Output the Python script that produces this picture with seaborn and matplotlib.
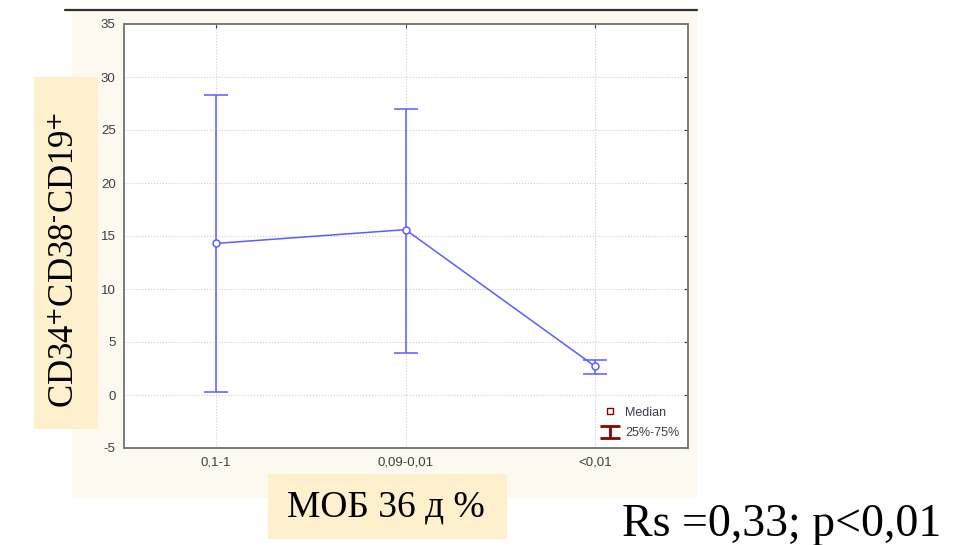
import numpy as np
import pandas as pd
import matplotlib
matplotlib.use('Agg')
import matplotlib.pyplot as plt
from matplotlib.patches import Rectangle
from matplotlib.lines import Line2D
import seaborn as sns

# values
groups = ['0,1-1', '0,09-0,01', '<0,01']
median = [14.3, 15.6, 2.7]
q25 = [0.3, 4.0, 2.0]
q75 = [28.3, 27.0, 3.3]

df = pd.DataFrame({'group': groups, 'median': median, 'q25': q25, 'q75': q75})
df['pos'] = np.arange(len(groups))

sns.set_style('white')
plt.rcParams['font.family'] = ['Liberation Sans', 'DejaVu Sans']
plt.rcParams['mathtext.fontset'] = 'stix'
plt.rcParams['axes.unicode_minus'] = False

W, H = 963, 545
fig = plt.figure(figsize=(W / 100, H / 100), dpi=100)

def fx(px):
    return px / W

def fy(py):
    return 1 - py / H

# cream panel behind the chart and the label boxes
fig.patches.append(Rectangle((fx(72), fy(498)), fx(697) - fx(72), fy(11) - fy(498),
                             transform=fig.transFigure, facecolor='#fef9ee', edgecolor='none', zorder=-3))
fig.patches.append(Rectangle((fx(34), fy(429)), fx(98) - fx(34), fy(77) - fy(429),
                             transform=fig.transFigure, facecolor='#fef0cd', edgecolor='none', zorder=-2))
fig.patches.append(Rectangle((fx(268), fy(539)), fx(507) - fx(268), fy(474) - fy(539),
                             transform=fig.transFigure, facecolor='#fef0cd', edgecolor='none', zorder=-2))
fig.lines.append(Line2D([fx(65), fx(697)], [fy(10), fy(10)], transform=fig.transFigure,
                        color='#303030', lw=1.6))

ax = fig.add_axes([fx(124), fy(448), fx(688) - fx(124), fy(24) - fy(448)])
ax.set_zorder(1)
ax.set_facecolor('white')

blue = '#5c5cff'
ax.errorbar(df['pos'], df['median'],
            yerr=[df['median'] - df['q25'], df['q75'] - df['median']],
            fmt='none', ecolor=blue, elinewidth=1.1, capsize=8.5, capthick=1.1, zorder=2)
sns.lineplot(data=df, x='pos', y='median', ax=ax, color=blue, lw=1.1,
             marker='o', markersize=5, markerfacecolor='white', markeredgecolor=blue,
             markeredgewidth=1.1, legend=False, zorder=3)

ax.set_xlim(-0.485, 2.49)
ax.set_ylim(-5, 35)
ax.set_yticks(np.arange(-5, 36, 5))
ax.set_xticks(df['pos'])
ax.set_xticklabels(groups)
ax.set_xlabel('')
ax.set_ylabel('')
ax.grid(True, color='#cccccc', ls=':', lw=0.8)
ax.tick_params(axis='both', labelsize=9.5, colors='#3c3c48', direction='in', length=3,
               top=True, right=True, pad=6)
for s in ax.spines.values():
    s.set_color('#7a7a7a')
    s.set_linewidth(1.4)

# legend
red = '#8b0000'
h_med = Line2D([], [], ls='', marker='s', markersize=4, markerfacecolor='none',
               markeredgecolor=red, markeredgewidth=1)
h_iqr = ax.errorbar([np.nan], [np.nan], yerr=[[1], [1]], fmt='none', ecolor=red,
                    elinewidth=2, capsize=7, capthick=2)
leg = ax.legend([h_med, h_iqr], ['Median', '25%-75%'], loc='lower right', frameon=False,
                fontsize=9, handlelength=1.4, handletextpad=0.5, labelspacing=0.7,
                borderaxespad=0.3)
for t in leg.get_texts():
    t.set_color('#3c3c48')

serif = ['Liberation Serif', 'DejaVu Serif']
fig.text(fx(66), fy(260), r'CD34$^{+}$CD38$^{\text{-}}$CD19$^{+}$', rotation=90, ha='center',
         va='center', fontsize=25, family=serif, color='black', zorder=5)
fig.text(fx(386), fy(507), 'МОБ 36 д %', ha='center', va='center', fontsize=27,
         family=serif, color='black', zorder=5)
fig.text(fx(782), fy(536), 'Rs =0,33; p<0,01', ha='center', va='baseline', fontsize=33,
         family=serif, color='black', zorder=5)

fig.savefig('out.png', dpi=100)
